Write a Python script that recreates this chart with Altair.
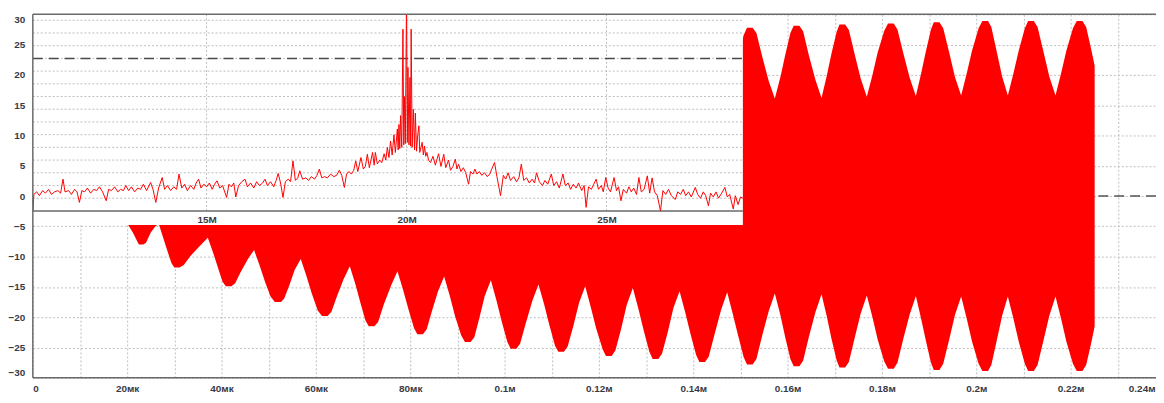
import json
import altair as alt
import pandas as pd

# ---------------- main time signal: envelope (t in microseconds, amplitude) ----------------
env_t = [
    20.0, 21.2, 22.2, 22.5, 22.9,
    23.4, 24.0, 25.0, 26.0, 26.7,
    27.6, 28.5, 29.4, 30.0, 30.5,
    31.1, 32.0, 33.5, 35.6, 37.1,
    38.2, 39.2, 40.2, 40.9, 41.5,
    42.1, 42.9, 44.1, 45.6, 46.9,
    48.1, 49.2, 50.4, 51.3, 52.0,
    52.6, 53.3, 54.4, 55.5, 56.8,
    58.0, 59.1, 60.4, 61.3, 61.9,
    62.5, 63.3, 64.5, 65.9, 67.2,
    68.4, 69.4, 70.5, 71.2, 71.8,
    72.4, 73.2, 74.4, 76.0, 77.3,
    78.5, 79.6, 80.8, 81.5, 82.1,
    82.7, 83.5, 84.6, 85.9, 87.2,
    88.4, 89.5, 90.8, 91.6, 92.2,
    92.8, 93.6, 94.7, 95.8, 97.1,
    98.3, 99.4, 100.6, 101.3, 101.9,
    102.5, 103.3, 104.5, 105.9, 107.2,
    108.4, 109.5, 110.7, 111.4, 112.0,
    112.6, 113.4, 114.6, 115.8, 117.1,
    118.3, 119.4, 120.8, 121.5, 122.1,
    122.7, 123.5, 124.7, 125.9, 127.2,
    128.4, 129.5, 130.7, 131.4, 132.0,
    132.6, 133.4, 134.6, 135.8, 137.1,
    138.3, 139.4, 140.6, 141.3, 141.9,
    142.5, 143.3, 144.5, 145.9, 147.2,
    148.4, 149.5, 150.7, 151.4, 152.0,
    152.6, 153.4, 154.6, 156.0, 157.3,
    158.5, 159.5, 160.6, 161.3, 161.9,
    162.5, 163.3, 164.5, 165.9, 167.2,
    168.3, 169.3, 170.4, 171.0, 171.6,
    172.2, 173.0, 174.2, 175.5, 176.8,
    178.0, 179.1, 180.5, 181.3, 181.9,
    182.5, 183.3, 184.5, 185.9, 187.2,
    188.3, 189.3, 190.4, 191.0, 191.6,
    192.2, 193.0, 194.2, 195.5, 196.8,
    198.0, 199.1, 200.5, 201.3, 201.9,
    202.5, 203.2, 204.3, 205.5, 206.7,
    207.9, 209.0, 210.3, 211.0, 211.6,
    212.2, 213.0, 214.2, 215.5, 216.8,
    218.0, 219.1, 220.5, 221.3, 221.9,
    222.5, 223.3, 224.3, 225.1,
]
env_e = [
    4.5, 6.0, 7.6, 8.0, 8.0,
    8.0, 7.7, 6.0, 5.0, 4.6,
    6.8, 9.0, 11.1, 11.8, 11.8,
    11.8, 11.4, 9.8, 8.1, 6.9,
    9.3, 11.7, 14.1, 14.9, 14.9,
    14.9, 14.4, 12.5, 10.4, 8.9,
    11.5, 14.1, 16.6, 17.5, 17.5,
    17.5, 16.9, 14.7, 12.2, 10.4,
    13.2, 16.0, 18.9, 19.8, 19.8,
    19.8, 19.1, 16.5, 13.7, 11.6,
    14.6, 17.5, 20.5, 21.5, 21.5,
    21.5, 20.8, 17.9, 14.7, 12.4,
    15.5, 18.6, 21.8, 22.8, 22.8,
    22.8, 22.0, 19.0, 15.7, 13.3,
    16.5, 19.8, 23.0, 24.1, 24.1,
    24.1, 23.3, 20.0, 16.5, 13.9,
    17.3, 20.7, 24.1, 25.2, 25.2,
    25.2, 24.4, 21.0, 17.3, 14.6,
    17.9, 21.3, 24.7, 25.7, 25.7,
    25.7, 24.8, 21.4, 17.6, 14.9,
    18.4, 21.8, 25.3, 26.4, 26.4,
    26.4, 25.5, 22.0, 18.0, 15.2,
    18.7, 22.2, 25.7, 26.9, 26.9,
    26.9, 26.0, 22.5, 18.5, 15.7,
    19.2, 22.7, 26.2, 27.4, 27.4,
    27.4, 26.5, 22.9, 18.8, 15.9,
    19.5, 23.0, 26.6, 27.8, 27.8,
    27.8, 26.9, 23.1, 19.0, 16.1,
    19.7, 23.3, 26.9, 28.1, 28.1,
    28.1, 27.2, 23.3, 19.2, 16.2,
    19.8, 23.5, 27.1, 28.3, 28.3,
    28.3, 27.4, 23.5, 19.4, 16.4,
    20.0, 23.7, 27.3, 28.5, 28.5,
    28.5, 27.5, 23.7, 19.5, 16.5,
    20.2, 23.8, 27.5, 28.7, 28.7,
    28.7, 27.7, 23.9, 19.6, 16.6,
    20.3, 24.0, 27.7, 28.9, 28.9,
    28.9, 27.9, 24.0, 19.7, 16.6,
    20.3, 24.0, 27.7, 28.9, 28.9,
    28.9, 27.9, 24.0, 19.7, 16.6,
    20.3, 24.0, 27.7, 28.9, 28.9,
    28.9, 27.9, 24.5, 21.5,
]

# ---------------- inset spectrum (frequency in MHz, level in inset grid units) ----------------
spec_f = [
    10.66, 10.68, 10.75, 10.82, 10.9, 10.97, 11.05, 11.12, 11.2, 11.28,
    11.35, 11.41, 11.46, 11.55, 11.62, 11.7, 11.76, 11.82, 11.88, 11.95,
    12.02, 12.1, 12.18, 12.25, 12.32, 12.4, 12.49, 12.55, 12.62, 12.7,
    12.78, 12.85, 12.92, 12.98, 13.05, 13.12, 13.2, 13.28, 13.35, 13.42,
    13.5, 13.6, 13.66, 13.73, 13.8, 13.89, 13.95, 14.02, 14.1, 14.18,
    14.25, 14.31, 14.38, 14.45, 14.52, 14.6, 14.68, 14.74, 14.8, 14.86,
    14.93, 15.0, 15.07, 15.14, 15.2, 15.26, 15.33, 15.4, 15.5, 15.56,
    15.62, 15.68, 15.73, 15.8, 15.88, 15.96, 16.02, 16.1, 16.18, 16.25,
    16.32, 16.4, 16.46, 16.52, 16.6, 16.68, 16.74, 16.79, 16.85, 16.91,
    16.97, 17.04, 17.1, 17.16, 17.22, 17.28, 17.33, 17.4, 17.48, 17.55,
    17.62, 17.7, 17.76, 17.82, 17.88, 17.95, 18.02, 18.1, 18.18, 18.25,
    18.32, 18.38, 18.445, 18.5, 18.56, 18.62, 18.68, 18.73, 18.78, 18.86,
    18.92, 18.97, 19.02, 19.07, 19.15, 19.19, 19.22, 19.27, 19.33, 19.38,
    19.44, 19.48, 19.52, 19.56, 19.6, 19.64, 19.685, 19.72, 19.77, 19.79,
    19.81, 19.83, 19.85, 19.88, 19.91, 19.93, 19.95, 19.97, 20.0, 20.02,
    20.035, 20.06, 20.085, 20.1, 20.115, 20.14, 20.17, 20.2, 20.22, 20.25,
    20.28, 20.31, 20.33, 20.39, 20.42, 20.45, 20.48, 20.51, 20.55, 20.6,
    20.66, 20.72, 20.8, 20.86, 20.93, 20.98, 21.05, 21.1, 21.16, 21.22,
    21.26, 21.3, 21.36, 21.42, 21.48, 21.55, 21.6, 21.66, 21.71, 21.76,
    21.82, 21.88, 21.95, 22.02, 22.08, 22.13, 22.2, 22.26, 22.35, 22.42,
    22.48, 22.54, 22.6, 22.68, 22.75, 22.81, 22.87, 22.93, 23.0, 23.07,
    23.14, 23.2, 23.25, 23.32, 23.4, 23.46, 23.53, 23.62, 23.68, 23.75,
    23.82, 23.91, 23.97, 24.04, 24.1, 24.17, 24.24, 24.3, 24.38, 24.44,
    24.49, 24.55, 24.62, 24.68, 24.74, 24.8, 24.87, 24.92, 24.98, 25.04,
    25.1, 25.19, 25.25, 25.3, 25.36, 25.42, 25.5, 25.56, 25.62, 25.68,
    25.75, 25.81, 25.87, 25.94, 26.02, 26.08, 26.14, 26.2, 26.27, 26.35,
    26.41, 26.48, 26.55, 26.62, 26.72, 26.78, 26.85, 26.92, 26.98, 27.05,
    27.12, 27.22, 27.28, 27.35, 27.42, 27.48, 27.55, 27.6, 27.67, 27.74,
    27.8, 27.88, 27.96, 28.02, 28.08, 28.17, 28.22, 28.29, 28.35, 28.41,
]
spec_a = [
    0.0, 1.3, 1.5, 1.2, 1.6, 1.4, 1.7, 1.3, 1.5, 1.6,
    1.4, 2.5, 1.5, 1.6, 1.3, 1.7, 1.5, 0.67, 1.6, 1.5,
    1.8, 1.4, 1.7, 1.6, 1.9, 1.5, 0.8, 1.7, 1.6, 1.9,
    1.5, 1.7, 1.6, 2.0, 1.6, 1.9, 1.5, 1.8, 1.7, 2.1,
    1.6, 2.24, 1.7, 0.67, 1.8, 2.63, 1.7, 2.0, 1.6, 1.9,
    1.7, 2.9, 1.8, 2.1, 1.6, 2.0, 1.7, 2.2, 2.5, 1.8,
    2.1, 1.9, 2.2, 1.7, 2.1, 2.37, 1.8, 2.0, 1.06, 2.1,
    1.9, 2.2, 1.1, 2.0, 2.3, 2.5, 1.9, 2.2, 1.8, 2.3,
    2.0, 2.2, 2.5, 2.0, 2.3, 1.9, 2.4, 2.95, 2.2, 1.06,
    2.3, 2.5, 2.3, 3.94, 2.4, 2.6, 3.16, 2.5, 2.6, 2.4,
    2.7, 2.5, 2.8, 3.29, 2.6, 2.7, 2.6, 2.9, 2.7, 2.8,
    3.2, 2.8, 1.85, 2.9, 3.1, 2.9, 3.2, 3.94, 3.1, 4.2,
    3.3, 3.5, 4.46, 3.4, 4.6, 3.6, 4.6, 3.7, 4.0, 3.8,
    4.5, 4.0, 5.0, 4.2, 5.5, 4.4, 6.0, 4.6, 6.45, 4.8,
    6.8, 4.9, 7.5, 5.0, 14.3, 5.2, 9.0, 5.3, 17.0, 5.4,
    11.3, 5.2, 10.5, 5.1, 14.3, 5.0, 8.0, 4.8, 7.7, 4.7,
    6.0, 6.7, 4.6, 5.4, 4.4, 5.1, 4.3, 4.6, 4.0, 3.8,
    4.3, 3.6, 4.5, 3.5, 4.46, 3.4, 4.0, 3.2, 3.5, 4.07,
    3.3, 3.68, 3.1, 3.4, 3.0, 2.1, 3.1, 2.9, 3.29, 2.9,
    3.1, 2.8, 3.0, 2.7, 2.9, 3.29, 3.81, 2.7, 1.2, 2.8,
    2.5, 3.0, 2.4, 2.7, 2.3, 2.6, 3.68, 2.4, 2.6, 2.2,
    2.5, 2.2, 3.0, 2.3, 2.0, 2.4, 2.1, 2.9, 2.0, 2.3,
    1.8, 2.9, 2.0, 2.2, 1.7, 2.1, 1.8, 2.2, 1.6, 2.0,
    0.28, 1.9, 1.7, 2.1, 2.5, 1.7, 2.0, 1.5, 2.63, 1.8,
    1.5, 2.63, 1.6, 1.9, 0.8, 1.7, 1.4, 1.9, 1.5, 1.8,
    1.3, 2.63, 1.5, 1.7, 2.76, 1.4, 2.6, 1.5, 1.2, 0.0,
    1.6, 1.3, 1.7, 1.2, 0.9, 1.5, 1.3, 1.7, 1.2, 1.5,
    1.1, 1.85, 1.3, 1.0, 1.5, 1.2, 0.4, 1.4, 1.1, 1.5,
    1.0, 1.4, 1.85, 1.1, 1.3, 0.15, 1.2, 0.5, 1.1, 1.0,
]
assert len(env_t) == len(env_e) and len(spec_f) == len(spec_a)

# ---------------- ticks / reference levels ----------------
y_ticks = [-30, -25, -20, -15, -10, -5, 0, 5, 10, 15, 20, 25, 30]
x_grid = [0, 10, 20, 30, 40, 50, 60, 70, 80, 90, 100, 110, 120, 130, 140,
          150, 160, 170, 180, 190, 200, 210, 220, 230, 240]
x_tick_labels = ["0", "20мк", "40мк", "60мк", "80мк", "0.1м", "0.12м", "0.14м",
                 "0.16м", "0.18м", "0.2м", "0.22м", "0.24м"]
zero_level = [0]

inset_f_ticks = [15, 20, 25]
inset_f_labels = ["15M", "20M", "25M"]
inset_u_grid = [1, 2, 3, 4, 5, 6, 7, 8, 9, 10, 11, 12, 13, 14, 15]
inset_dash_level = 12

# ---------------- layout ----------------
W, H = 1131, 366
X_MAIN = alt.Scale(domain=[0, 240], range=[0, 1140], nice=False, zero=False)
Y_MAIN = alt.Scale(domain=[-30, 30], nice=False, zero=False)
X_INS = alt.Scale(domain=[10.655, 38.74], nice=False, zero=False)
Y_INS = alt.Scale(domain=[-13.125, 15.469], nice=False, zero=False)
INSET_F = [10.655, 28.41]     # inset window horizontal extent (MHz)
INSET_U = [-1.1, 15.469]      # inset window vertical extent (inset units)

GRID_COLOR = "#bdbdbd"
FRAME_COLOR = "#6a6a6a"
RED = "#ff0000"
LABEL_COLOR = "#3a3a44"

xlab = json.dumps(x_tick_labels, ensure_ascii=False)
x_axis = alt.Axis(values=x_grid, grid=True, gridColor=GRID_COLOR, gridDash=[2, 2],
                  gridWidth=1, ticks=False, domain=False, labelPadding=6,
                  labelFlush=True, labelOverlap=False, title=None,
                  labelOffset={"condition": {"test": "datum.value == 240", "value": -10},
                               "value": 0},
                  labelExpr=f"datum.value % 20 == 0 ? {xlab}[datum.value / 20] : ''")
y_axis = alt.Axis(values=y_ticks, grid=True, gridColor=GRID_COLOR, gridDash=[2, 2],
                  gridWidth=1, ticks=False, domain=False, labelPadding=8,
                  labelFlush=True, labelOverlap=False, title=None)

# ---------------- main layer ----------------
sig_df = pd.DataFrame({"t": env_t, "e": env_e})
zero_rule = alt.Chart(pd.DataFrame({"v": zero_level})).mark_rule(
    color="#555555", strokeDash=[10, 6], strokeWidth=1.5
).encode(y=alt.Y("v:Q", scale=Y_MAIN, axis=y_axis))

signal = alt.Chart(sig_df).transform_calculate(lo="-datum.e").mark_area(
    color=RED, opacity=1
).encode(
    x=alt.X("t:Q", scale=X_MAIN, axis=x_axis),
    y=alt.Y("lo:Q", scale=Y_MAIN, axis=y_axis),
    y2="e:Q",
)
main = alt.layer(zero_rule, signal)

# ---------------- inset layer ----------------
flab = json.dumps(inset_f_labels)
ins_x_axis = alt.Axis(orient="top", offset=-213, values=inset_f_ticks, grid=False,
                      ticks=False, domain=False, labelPadding=1, zindex=1,
                      labelOverlap=False, title=None,
                      labelExpr=f"{flab}[(datum.value - 15) / 5]")

box_df = pd.DataFrame({"f0": [INSET_F[0]], "f1": [INSET_F[1]],
                       "u0": [INSET_U[0]], "u1": [INSET_U[1]]})
box = alt.Chart(box_df).mark_rect(color="white", opacity=1).encode(
    x=alt.X("f0:Q", scale=X_INS, axis=ins_x_axis), x2="f1:Q",
    y=alt.Y("u0:Q", scale=Y_INS, axis=None), y2="u1:Q",
)

hgrid_df = pd.DataFrame({"u": inset_u_grid, "f0": INSET_F[0], "f1": INSET_F[1]})
hgrid = alt.Chart(hgrid_df).mark_rule(color=GRID_COLOR, strokeDash=[2, 2], strokeWidth=1).encode(
    x=alt.X("f0:Q", scale=X_INS, axis=ins_x_axis), x2="f1:Q",
    y=alt.Y("u:Q", scale=Y_INS, axis=None),
)
vgrid_df = pd.DataFrame({"f": inset_f_ticks, "u0": 0, "u1": INSET_U[1]})
vgrid = alt.Chart(vgrid_df).mark_rule(color=GRID_COLOR, strokeDash=[2, 2], strokeWidth=1).encode(
    x=alt.X("f:Q", scale=X_INS, axis=ins_x_axis),
    y=alt.Y("u0:Q", scale=Y_INS, axis=None), y2="u1:Q",
)
dash_df = pd.DataFrame({"u": [inset_dash_level], "f0": INSET_F[0], "f1": INSET_F[1]})
dash = alt.Chart(dash_df).mark_rule(color="#4a4a4a", strokeDash=[10, 6], strokeWidth=1.5).encode(
    x=alt.X("f0:Q", scale=X_INS, axis=ins_x_axis), x2="f1:Q",
    y=alt.Y("u:Q", scale=Y_INS, axis=None),
)
base_df = pd.DataFrame({"u": [0], "f0": INSET_F[0], "f1": INSET_F[1]})
base = alt.Chart(base_df).mark_rule(color=FRAME_COLOR, strokeWidth=1.5).encode(
    x=alt.X("f0:Q", scale=X_INS, axis=ins_x_axis), x2="f1:Q",
    y=alt.Y("u:Q", scale=Y_INS, axis=None),
)

spec_df = pd.DataFrame({"f": spec_f, "a": spec_a})
spectrum = alt.Chart(spec_df).mark_line(color=RED, strokeWidth=1, clip=True).encode(
    x=alt.X("f:Q", scale=X_INS, axis=ins_x_axis),
    y=alt.Y("a:Q", scale=Y_INS, axis=None),
)
inset = alt.layer(box, hgrid, vgrid, dash, base, spectrum)

# ---------------- frame on top ----------------
frame_h = alt.Chart(pd.DataFrame({"v": [-30, 30]})).mark_rule(
    color=FRAME_COLOR, strokeWidth=1.5).encode(y=alt.Y("v:Q", scale=Y_MAIN, axis=None))
frame_v = alt.Chart(pd.DataFrame({"t": [0]})).mark_rule(
    color=FRAME_COLOR, strokeWidth=1.5).encode(x=alt.X("t:Q", scale=X_MAIN, axis=None))
frame = alt.layer(frame_h, frame_v)

chart = alt.layer(main, inset, frame).resolve_scale(
    x="independent", y="independent"
).properties(
    width=W, height=H,
    autosize=alt.AutoSizeParams(type="none"),
    padding={"left": 25, "top": 5, "right": 0, "bottom": 17},
).configure_view(stroke=None).configure_axis(
    labelFont="Liberation Sans", labelFontSize=10, labelColor=LABEL_COLOR,
    labelFontWeight="bold"
)

chart.save("out.html", embed_options={"renderer": "svg", "actions": False})
